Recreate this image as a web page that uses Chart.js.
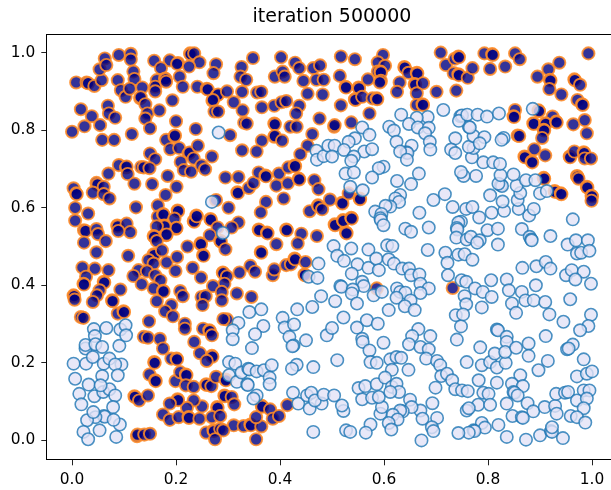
<!DOCTYPE html>
<html>
<head>
<meta charset="utf-8">
<style>
  html, body { margin: 0; padding: 0; background: white; overflow: hidden; }
  #wrap { width: 611px; height: 490px; overflow: hidden; }
  canvas { display: block; }
</style>
<script src="https://cdn.jsdelivr.net/npm/chart.js@4/dist/chart.umd.min.js"></script>
</head>
<body>
<div id="wrap"><canvas id="chart" width="625" height="490"></canvas></div>
<script>
const titleText = "iteration 500000";
const tickValues = [0, 0.2, 0.4, 0.6, 0.8, 1];

const darkTopLeft = [
[.000,.796],[.024,.810],[.017,.854],[.038,.836],[.054,.813],[.058,.775],[.081,.775],[.115,.790],[.008,.923],[.028,.923],
[.031,.921],[.043,.914],[.057,.929],[.053,.957],[.063,.985],[.066,.968],[.090,.994],[.113,.997],[.113,.982],[.118,.951],
[.120,.932],[.088,.929],[.094,.903],[.103,.886],[.111,.907],[.135,.910],[.131,.882],[.132,.885],[.141,.867],[.145,.843],
[.141,.830],[.150,.805],[.168,.851],[.069,.863],[.071,.843],[.083,.832],[.158,.979],[.188,.980],[.171,.960],[.204,.973],
[.202,.971],[.207,.938],[.163,.929],[.179,.933],[.180,.931],[.160,.912],[.160,.900],[.181,.925],[.213,.912],[.193,.877],
[.227,.998],[.228,.996],[.235,.998],[.245,.975],[.225,.964],[.277,.970],[.272,.947],[.241,.912],[.259,.907],[.261,.905],
[.279,.890],[.281,.892],[.270,.876],[.271,.878],[.274,.848],[.281,.848],[.298,.900],[.311,.872],[.327,.899],[.326,.963],
[.324,.938],[.335,.930],[.348,.986],[.356,.897],[.364,.899],[.328,.851],[.331,.819],[.336,.817],[.365,.859],[.389,.863],
[.402,.988],[.390,.938],[.405,.951],[.409,.938],[.429,.974],[.437,.960],[.403,.872],[.412,.875],[.445,.927],[.464,.960],
[.477,.967],[.470,.930],[.484,.930],[.453,.894],[.482,.892],[.437,.863],[.431,.843],[.476,.830],[.389,.817],[.390,.815],
[.389,.783],[.390,.785],[.404,.773],[.420,.809],[.432,.809],[.462,.790],[.453,.760],[.439,.738],[.365,.773],[.327,.748],
[.355,.745],[.304,.787],[.238,.803],[.200,.823],[.181,.775],[.197,.784],[.198,.786],[.189,.751],[.206,.754],[.224,.740],
[.226,.742],[.242,.760],[.269,.732],[.209,.718],[.215,.697],[.229,.693],[.234,.727],[.249,.709],[.256,.699],[.150,.740],
[.160,.725],[.133,.705],[.138,.704],[.149,.702],[.090,.710],[.104,.704],[.105,.706],[.107,.687],[.070,.688],[.047,.664],
[.049,.660],[.061,.654],[.003,.650],[.008,.637],[.009,.635],[.040,.639],[.061,.635],[.072,.624],[.120,.662],[.154,.661],
[.184,.682],[.201,.654],[.180,.633],[.295,.678],[.320,.679],[.318,.640],[.319,.638],[.340,.651],[.349,.664],[.359,.691],
[.372,.683],[.373,.681],[.398,.688],[.393,.657],[.415,.663],[.416,.704],[.428,.709],[.429,.707],[.436,.675],[.437,.673],
[.466,.671],[.474,.648],[.407,.624],[.373,.615],[.363,.588],[.301,.600],[.277,.620],[.006,.600],[.031,.585],[.006,.567],
[.023,.542],[.026,.540],[.047,.545],[.050,.532],[.065,.514],[.023,.510],[.123,.601],[.087,.554],[.088,.552],[.105,.559],
[.112,.537],[.089,.540],[.165,.606],[.165,.577],[.175,.584],[.176,.582],[.203,.593],[.204,.591],[.197,.572],[.200,.546],
[.201,.548],[.177,.554],[.178,.552],[.163,.552],[.181,.529],[.182,.531],[.157,.527],[.158,.525],[.163,.514],[.222,.500],
[.234,.566],[.235,.564],[.239,.580],[.240,.578],[.266,.571],[.267,.569],[.280,.549],[.265,.529],[.285,.515],[.286,.513],
[.247,.508],[.248,.506],[.320,.562],[.307,.549],[.359,.544],[.360,.542],[.375,.536],[.376,.534],[.412,.544],[.413,.542],
[.441,.533],[.434,.508],[.393,.506],[.471,.527],[.457,.591],[.473,.606],[.474,.604],[.481,.596]
];
const darkTopRight = [
[.517,.990],[.544,.983],[.598,.994],[.588,.975],[.602,.966],[.588,.951],[.593,.951],[.594,.949],[.594,.927],[.592,.923],
[.515,.940],[.526,.912],[.527,.910],[.551,.910],[.552,.908],[.569,.931],[.544,.880],[.545,.878],[.558,.886],[.578,.882],
[.586,.882],[.587,.880],[.517,.864],[.572,.843],[.630,.923],[.625,.899],[.639,.963],[.640,.961],[.647,.948],[.663,.948],
[.664,.946],[.659,.919],[.660,.917],[.675,.921],[.663,.895],[.663,.865],[.674,.867],[.675,.865],[.701,.899],[.739,.902],
[.709,1.000],[.719,.968],[.736,.984],[.743,.990],[.744,.988],[.734,.947],[.743,.944],[.744,.942],[.761,.935],[.770,.960],
[.793,.998],[.808,.996],[.809,.994],[.804,.958],[.833,.964],[.852,.998],[.861,.983],[.895,.938],[.916,.957],[.937,.974],
[.919,.930],[.920,.928],[.918,.906],[.941,.892],[.993,.998],[.966,.931],[.967,.929],[.977,.917],[.972,.878],[.981,.867],
[.982,.865],[.852,.852],[.849,.836],[.850,.834],[.897,.851],[.898,.849],[.924,.835],[.887,.818],[.888,.816],[.910,.818],
[.911,.816],[.931,.822],[.932,.820],[.907,.801],[.908,.799],[.904,.780],[.857,.786],[.860,.785],[.964,.815],[.986,.826],
[.990,.792],[.889,.751],[.870,.732],[.871,.730],[.884,.719],[.885,.717],[.910,.735],[.957,.732],[.958,.730],[.966,.745],
[.984,.743],[.985,.741],[.986,.727],[.998,.727],[.907,.677],[.908,.675],[.971,.682],[.972,.680],[.974,.675],[.990,.654],
[.991,.652],[.999,.631],[1.000,.629],[.999,.618],[.928,.643],[.929,.641],[.940,.637],[.941,.635],[.504,.809],[.505,.813],
[.537,.820],[.496,.621],[.519,.613],[.520,.611],[.532,.637],[.553,.624],[.554,.622],[.505,.557],[.506,.555],[.521,.568],
[.522,.566],[.537,.574],[.538,.572],[.527,.536],[.528,.534]
];
const darkBottomLeft = [
[.047,.485],[.108,.476],[.157,.480],[.158,.478],[.147,.465],[.173,.490],[.157,.456],[.182,.459],[.202,.473],[.199,.437],
[.128,.439],[.118,.424],[.144,.436],[.134,.403],[.252,.478],[.253,.476],[.295,.493],[.232,.445],[.248,.420],[.290,.433],
[.291,.431],[.298,.423],[.293,.404],[.271,.398],[.288,.383],[.288,.361],[.317,.379],[.345,.370],[.322,.433],[.343,.450],
[.352,.435],[.363,.486],[.364,.484],[.386,.426],[.389,.441],[.412,.452],[.421,.454],[.428,.469],[.429,.467],[.449,.460],
[.447,.428],[.448,.426],[.020,.446],[.044,.443],[.070,.439],[.027,.422],[.022,.404],[.023,.402],[.061,.409],[.062,.407],
[.053,.387],[.093,.389],[.048,.374],[.040,.357],[.003,.374],[.004,.372],[.005,.363],[.077,.361],[.078,.359],[.088,.327],
[.099,.333],[.100,.331],[.017,.318],[.022,.316],[.160,.426],[.170,.413],[.157,.392],[.175,.386],[.176,.384],[.163,.359],
[.191,.349],[.179,.333],[.194,.320],[.208,.385],[.213,.372],[.217,.301],[.217,.288],[.249,.370],[.257,.372],[.251,.349],
[.298,.312],[.291,.313],[.148,.307],[.138,.267],[.146,.265],[.169,.262],[.175,.237],[.252,.288],[.264,.284],[.265,.282],
[.269,.271],[.235,.254],[.246,.225],[.269,.218],[.270,.216],[.259,.205],[.158,.202],[.159,.200],[.191,.211],[.201,.211],
[.202,.209],[.149,.170],[.160,.155],[.161,.153],[.199,.153],[.208,.176],[.219,.170],[.220,.168],[.219,.142],[.234,.138],
[.258,.145],[.259,.143],[.268,.140],[.277,.164],[.295,.157],[.296,.155],[.293,.116],[.294,.114],[.307,.112],[.312,.093],
[.279,.086],[.280,.084],[.250,.088],[.234,.103],[.221,.084],[.203,.106],[.204,.104],[.188,.095],[.175,.067],[.188,.053],
[.205,.060],[.224,.060],[.225,.058],[.245,.056],[.269,.060],[.285,.063],[.120,.114],[.121,.112],[.129,.103],[.146,.116],
[.125,.011],[.126,.015],[.139,.015],[.150,.017],[.311,.039],[.330,.037],[.343,.041],[.344,.039],[.364,.036],[.354,.060],
[.365,.089],[.366,.087],[.381,.080],[.386,.056],[.398,.063],[.414,.091],[.354,.003],[.258,.020],[.272,.026],[.273,.024],
[.285,.030],[.291,.026],[.275,.003]
];
const darkBottomRight = [[.586,.392],[.732,.393]];

const lightTopLeft = [
[.282,.794],[.269,.615],[.290,.535],[.470,.747],[.471,.724],[.484,.733],[.493,.760]
];
const lightTopRight = [
[.633,.840],[.714,.852],[.684,.834],[.663,.832],[.648,.816],[.665,.807],[.686,.806],[.679,.792],[.688,.770],[.689,.750],
[.610,.809],[.619,.799],[.624,.770],[.653,.760],[.643,.743],[.645,.741],[.631,.745],[.644,.724],[.558,.807],[.572,.788],
[.544,.779],[.532,.770],[.505,.760],[.523,.749],[.562,.745],[.577,.751],[.542,.732],[.537,.721],[.500,.732],[.526,.688],
[.542,.691],[.599,.706],[.590,.702],[.577,.678],[.625,.669],[.667,.688],[.652,.661],[.535,.654],[.559,.645],[.631,.633],
[.622,.624],[.629,.615],[.612,.603],[.603,.605],[.583,.590],[.595,.584],[.593,.573],[.594,.568],[.599,.555],[.695,.620],
[.717,.635],[.732,.602],[.758,.597],[.770,.602],[.668,.587],[.641,.546],[.652,.538],[.686,.549],[.783,.575],[.807,.587],
[.748,.564],[.743,.562],[.740,.548],[.741,.544],[.739,.523],[.759,.518],[.767,.525],[.784,.516],[.779,.510],[.799,.542],
[.819,.546],[.819,.505],[.865,.545],[.880,.525],[.883,.518],[.884,.516],[.920,.527],[.963,.570],[.953,.505],[.969,.516],
[.992,.516],[.879,.580],[.888,.597],[.859,.597],[.831,.592],[.828,.616],[.857,.620],[.862,.638],[.855,.657],[.804,.632],
[.825,.658],[.827,.656],[.820,.662],[.824,.684],[.849,.686],[.873,.671],[.891,.671],[.900,.637],[.913,.643],[.777,.682],
[.753,.682],[.748,.692],[.791,.717],[.810,.717],[.823,.713],[.769,.730],[.772,.754],[.763,.757],[.737,.779],[.729,.750],
[.737,.741],[.772,.785],[.793,.782],[.784,.766],[.830,.780],[.826,.775],[.763,.809],[.765,.807],[.747,.836],[.750,.838],
[.744,.824],[.760,.840],[.780,.840],[.798,.835],[.821,.843],[.886,.855]
];
const lightBottomLeft = [
[.003,.198],[.006,.159],[.014,.120],[.018,.093],[.026,.237],[.026,.246],[.027,.198],[.042,.287],[.044,.269],[.045,.248],
[.058,.241],[.040,.215],[.061,.198],[.072,.211],[.091,.244],[.093,.286],[.103,.297],[.104,.271],[.066,.290],[.095,.196],
[.083,.196],[.088,.168],[.058,.166],[.032,.144],[.043,.114],[.060,.125],[.072,.132],[.083,.116],[.079,.086],[.061,.063],
[.063,.061],[.045,.060],[.029,.052],[.092,.041],[.053,.026],[.022,.022],[.031,.003],[.085,.009],[.041,.073],[.080,.053],
[.055,.142],[.320,.303],[.309,.284],
[.309,.261],[.341,.331],[.364,.338],[.368,.295],[.352,.274],[.346,.238],[.405,.316],[.409,.291],[.427,.299],[.433,.338],
[.462,.344],[.479,.372],[.418,.267],[.426,.245],[.424,.243],[.450,.258],[.490,.271],[.474,.456],[.455,.422],[.472,.419],
[.302,.202],[.314,.198],[.302,.168],[.317,.151],[.326,.175],[.339,.185],[.341,.183],[.337,.145],[.338,.143],[.355,.178],
[.369,.181],[.384,.194],[.380,.162],[.380,.145],[.355,.116],[.349,.108],[.432,.195],[.423,.185],[.464,.189],[.425,.123],
[.435,.095],[.452,.116],[.460,.123],[.457,.082],[.480,.095],[.467,.103],[.484,.118],[.464,.022]
];
const lightBottomRight = [
[.503,.501],[.537,.495],[.570,.492],[.606,.503],[.616,.501],[.684,.491],[.718,.484],[.743,.479],[.755,.480],[.770,.466],
[.722,.458],[.510,.476],[.523,.463],[.549,.454],[.570,.445],[.585,.469],[.590,.439],[.609,.467],[.619,.456],[.635,.443],
[.648,.443],[.652,.426],[.668,.428],[.538,.430],[.723,.426],[.558,.409],[.561,.398],[.516,.398],[.518,.396],[.540,.389],
[.538,.379],[.580,.374],[.596,.383],[.548,.353],[.506,.359],[.625,.392],[.631,.383],[.641,.381],[.670,.404],[.686,.392],
[.670,.380],[.624,.368],[.651,.361],[.640,.346],[.659,.336],[.609,.336],[.749,.413],[.758,.409],[.755,.372],[.758,.351],
[.775,.392],[.790,.383],[.806,.413],[.807,.370],[.788,.343],[.836,.415],[.840,.387],[.846,.353],[.865,.383],[.872,.361],
[.854,.329],[.888,.361],[.892,.400],[.866,.445],[.893,.449],[.911,.460],[.920,.443],[.910,.357],[.918,.325],[.945,.306],
[.958,.364],[.950,.426],[.961,.439],[.984,.435],[.968,.415],[.998,.404],[.971,.482],[.979,.484],[.995,.489],[.998,.324],
[.993,.295],[.977,.284],[.738,.323],[.752,.325],[.748,.294],[.740,.260],[.522,.317],[.500,.290],[.548,.291],[.567,.310],
[.588,.301],[.558,.262],[.559,.254],[.599,.252],[.572,.232],[.574,.202],[.586,.200],[.510,.207],[.612,.209],[.624,.215],
[.633,.213],[.615,.182],[.647,.182],[.666,.287],[.654,.269],[.648,.248],[.689,.269],[.670,.241],[.686,.235],[.681,.211],
[.702,.205],[.708,.194],[.710,.166],[.721,.172],[.731,.155],[.699,.136],[.737,.132],[.750,.129],[.761,.127],[.782,.155],
[.791,.123],[.801,.120],[.817,.149],[.759,.202],[.788,.194],[.804,.202],[.813,.224],[.817,.188],[.834,.200],[.785,.240],
[.817,.286],[.819,.284],[.836,.267],[.836,.254],[.833,.228],[.854,.239],[.878,.250],[.878,.218],[.911,.269],[.915,.205],
[.897,.181],[.963,.247],[.952,.235],[.955,.237],[.984,.209],[.971,.165],[.990,.172],[1.000,.178],[.862,.168],[.846,.146],
[.867,.140],[.849,.125],[.851,.123],[.857,.116],[.836,.095],[.876,.096],[.781,.092],[.804,.092],[.759,.077],[.763,.083],
[.887,.075],[.909,.086],[.929,.089],[.932,.069],[.931,.120],[.948,.123],[.954,.125],[.984,.129],[.995,.129],[.971,.103],
[.990,.108],[.984,.083],[.959,.063],[.971,.060],[.987,.046],[.847,.063],[.865,.060],[.867,.058],[.900,.013],[.921,.024],
[.923,.022],[.923,.034],[.944,.006],[.873,.002],[.836,.009],[.820,.040],[.788,.045],[.794,.033],[.772,.026],[.774,.024],
[.763,.020],[.743,.019],[.693,.096],[.670,.077],[.674,.056],[.702,.058],[.692,.034],[.695,.024],[.672,.000],[.650,.105],
[.653,.086],[.636,.075],[.631,.077],[.617,.066],[.626,.054],[.593,.069],[.596,.086],[.609,.045],[.614,.028],[.574,.041],
[.565,.020],[.527,.026],[.535,.022],[.522,.076],[.519,.090],[.504,.116],[.551,.135],[.564,.140],[.558,.106],[.577,.110],
[.590,.112],[.586,.145],[.602,.162],[.615,.138],[.624,.146],[.629,.125],[.612,.125]
];

const toPoints = list => list.map(([x, y]) => ({ x, y }));
const lightPoints = toPoints([...lightTopLeft, ...lightTopRight, ...lightBottomLeft, ...lightBottomRight]);
const darkPoints = toPoints([...darkTopLeft, ...darkTopRight, ...darkBottomLeft, ...darkBottomRight]);

// matplotlib-style frame: the right side falls outside the window
const topSpine = {
    id: "topSpine",
    afterDraw(chart) {
        const { ctx, chartArea } = chart;
        const y = Math.floor(chartArea.top) + 0.5;
        ctx.save();
        ctx.strokeStyle = "#000";
        ctx.lineWidth = 1.1;
        ctx.beginPath();
        ctx.moveTo(chartArea.left, y);
        ctx.lineTo(chartArea.right, y);
        ctx.stroke();
        ctx.restore();
    }
};

const axisFont = { family: "DejaVu Sans", size: 15.4 };
const axisOptions = (min, max, pad) => ({
    type: "linear",
    min: min,
    max: max,
    afterBuildTicks: scale => { scale.ticks = tickValues.map(v => ({ value: v })); },
    grid: { drawOnChartArea: false, drawTicks: true, tickLength: 5.5, tickColor: "#222", tickWidth: 1 },
    border: { display: true, color: "#000", width: 1 },
    ticks: { color: "#000", font: axisFont, padding: pad, maxRotation: 0, autoSkip: false, callback: v => v.toFixed(1) }
});

const xAxis = axisOptions(-0.0485, 1.048, 5.3);
xAxis.afterFit = scale => { scale.height = 30.2; };
const yAxis = axisOptions(-0.05, 1.048, 6);
yAxis.afterFit = scale => { scale.width = 46.8; };

new Chart(document.querySelector("#chart"), {
    type: "scatter",
    data: {
        datasets: [{
            label: "light",
            data: lightPoints,
            pointRadius: 6.2,
            pointBorderWidth: 1.6,
            pointBackgroundColor: "rgba(226,226,246,0.8)",
            pointBorderColor: "rgba(31,119,180,0.8)"
        }, {
            label: "dark",
            data: darkPoints,
            pointRadius: 6.1,
            pointBorderWidth: 1.9,
            pointBackgroundColor: "rgba(0,0,128,0.8)",
            pointBorderColor: "rgba(255,140,40,0.88)"
        }]
    },
    options: {
        responsive: false,
        animation: false,
        layout: { padding: { left: 0, right: 8, top: 0, bottom: 0 } },
        scales: { x: xAxis, y: yAxis },
        plugins: {
            legend: { display: false },
            tooltip: { enabled: false },
            title: {
                display: true,
                fullSize: false,
                text: titleText,
                color: "#000",
                font: { family: "DejaVu Sans", size: 19, weight: "normal", lineHeight: 1.2 },
                padding: { top: 5.5, bottom: 5.7 }
            }
        }
    },
    plugins: [topSpine]
});
</script>
</body>
</html>
